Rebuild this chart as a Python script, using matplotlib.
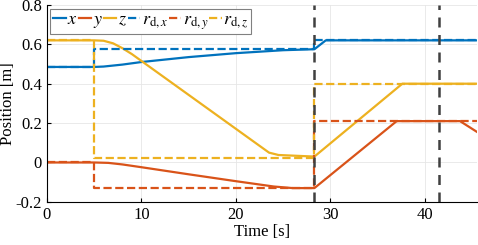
import matplotlib.pyplot as plt

plt.rcParams['font.family'] = ['Liberation Serif', 'DejaVu Serif']
plt.rcParams['mathtext.fontset'] = 'stix'

t_x = [0, 5, 6, 8, 10, 15, 20, 25, 28.3, 29.5, 45.5]
x = [0.485, 0.485, 0.487, 0.497, 0.51, 0.535, 0.555, 0.57, 0.575, 0.62, 0.62]

t_y = [0, 5, 6.5, 8, 10, 15, 20, 24, 26, 28.3, 37, 43.7, 45.5]
y = [0, 0, -0.002, -0.01, -0.024, -0.06, -0.095, -0.122, -0.13, -0.13, 0.21, 0.21, 0.155]

t_z = [0, 5, 6, 7, 8, 9, 23.5, 24.5, 28.3, 37.6, 45.5]
z = [0.62, 0.62, 0.618, 0.605, 0.58, 0.55, 0.05, 0.038, 0.03, 0.40, 0.40]

# reference positions
t_ref = [0, 5, 5, 28.3, 28.3, 45.5]
rdx = [0.485, 0.485, 0.575, 0.575, 0.62, 0.62]
rdy = [0, 0, -0.13, -0.13, 0.21, 0.21]
rdz = [0.62, 0.62, 0.025, 0.025, 0.40, 0.40]

events = [28.3, 41.5]

c_blue = '#0072BD'
c_orange = '#D95319'
c_yellow = '#EDB120'

fig = plt.figure(figsize=(4.78, 2.45), dpi=100)
ax = fig.add_axes([0.098, 0.176, 0.9, 0.804])

ax.plot(t_x, x, color=c_blue, lw=1.6, label='$x$')
ax.plot(t_y, y, color=c_orange, lw=1.6, label='$y$')
ax.plot(t_z, z, color=c_yellow, lw=1.6, label='$z$')
ax.plot(t_ref, rdx, '--', color=c_blue, lw=1.6, label=r'$r_{\mathrm{d},x}$')
ax.plot(t_ref, rdy, '--', color=c_orange, lw=1.6, label=r'$r_{\mathrm{d},y}$')
ax.plot(t_ref, rdz, '--', color=c_yellow, lw=1.6, label=r'$r_{\mathrm{d},z}$')

for e in events:
    ax.axvline(e, color='#404040', ls=(0, (4, 3)), lw=1.8)

ax.set_xlim(0, 45.5)
ax.set_ylim(-0.2, 0.8)
ax.set_xticks([0, 10, 20, 30, 40])
ax.set_yticks([-0.2, 0, 0.2, 0.4, 0.6, 0.8])
ax.set_yticklabels(['-0.2', '0', '0.2', '0.4', '0.6', '0.8'])
ax.tick_params(labelsize=12, direction='in', length=3)
ax.grid(True, color='#e6e6e6', lw=0.6)
ax.set_axisbelow(True)
for s in ['top', 'right']:
    ax.spines[s].set_visible(False)
ax.set_xlabel('Time [s]', fontsize=12, labelpad=1)
ax.set_ylabel('Position [m]', fontsize=12, labelpad=0)

leg = ax.legend(loc='upper left', ncol=6, fontsize=13, handlelength=0.7,
                handletextpad=0.08, columnspacing=0.05, borderpad=0.15,
                fancybox=False, edgecolor='#808080', framealpha=1,
                borderaxespad=0.2)
leg.get_frame().set_linewidth(0.8)

fig.savefig('out.png', dpi=100)
